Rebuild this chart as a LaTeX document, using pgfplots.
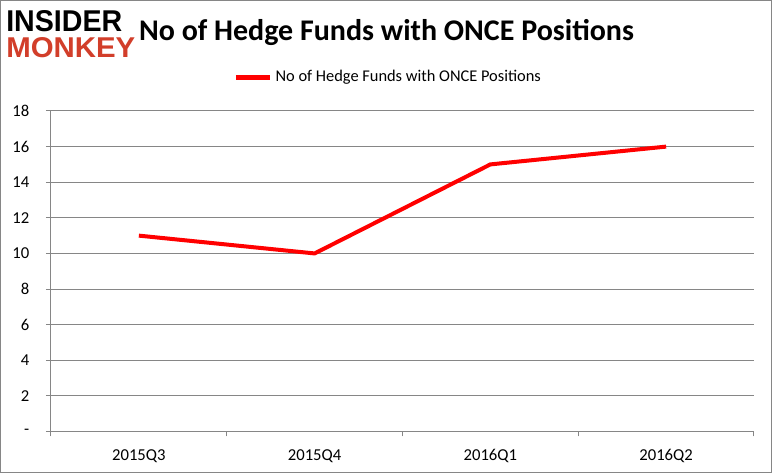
\documentclass[border=0pt]{standalone}
\usepackage{pgfplots}
\pgfplotsset{compat=1.18}
\usepackage{fontspec}
\usepackage{graphicx}
\setmainfont{Carlito}
\newfontfamily\logofont{Liberation Sans}
\definecolor{axisgray}{RGB}{134,134,134}
\definecolor{linered}{RGB}{255,0,0}
\definecolor{logored}{RGB}{210,62,42}

\begin{document}
\begin{tikzpicture}
  % frame of the whole picture, 772 x 473 px
  \fill[white] (0,0) rectangle (579pt,354.75pt);
  \useasboundingbox (0,0) rectangle (579pt,354.75pt);
  \draw[axisgray, line width=0.75pt] (0.375pt,0.375pt) rectangle (578.625pt,354.375pt);

  \begin{scope}[x=0.75pt, y=-0.75pt, shift={(0,354.75pt)}]
    \node[anchor=west, inner sep=0pt] at (6,21)
      {\resizebox{116\dimexpr0.75pt\relax}{21\dimexpr0.75pt\relax}{\logofont\bfseries INSIDER}};
    \node[anchor=west, inner sep=0pt, text=logored] at (6,48)
      {\resizebox{129\dimexpr0.75pt\relax}{20\dimexpr0.75pt\relax}{\logofont\bfseries MONKEY}};
    \node[inner sep=0pt, font=\fontsize{22.5}{26}\selectfont\bfseries] at (386.5,33)
      {No of Hedge Funds with ONCE Positions};
  \end{scope}

  \begin{axis}[
      at={(38.25pt,31.125pt)},
      anchor=south west,
      scale only axis,
      width=527.25pt,
      height=240.375pt,
      xmin=-0.5, xmax=3.5,
      ymin=0, ymax=18,
      xtick={-0.5,0.5,1.5,2.5,3.5},
      x tick label as interval,
      xticklabels={2015Q3,2015Q4,2016Q1,2016Q2},
      ytick={0,2,...,18},
      yticklabels={-,2,4,6,8,10,12,14,16,18},
      tick align=outside,
      major tick length=3.75pt,
      tick style={axisgray, line width=0.75pt},
      ymajorgrids,
      grid style={axisgray, line width=0.75pt},
      axis x line*=bottom,
      axis y line*=left,
      axis line style={axisgray, line width=0.75pt},
      tick label style={font=\fontsize{12.5}{15}\selectfont},
      yticklabel style={xshift=-9pt},
      xticklabel style={yshift=-6pt},
      legend style={at={(0.48,1.106)}, anchor=center, draw=none, fill=none,
        font=\fontsize{12.3}{15}\selectfont, inner sep=0pt},
      legend image code/.code={\draw[linered, line width=3.75pt] (0pt,0pt) -- (26pt,0pt);},
      clip=false,
    ]
    \addplot[linered, line width=3pt, mark=none] coordinates {
      (0,11) (1,10) (2,15) (3,16)
    };
    \addlegendentry{No of Hedge Funds with ONCE Positions}
  \end{axis}
\end{tikzpicture}
\end{document}
